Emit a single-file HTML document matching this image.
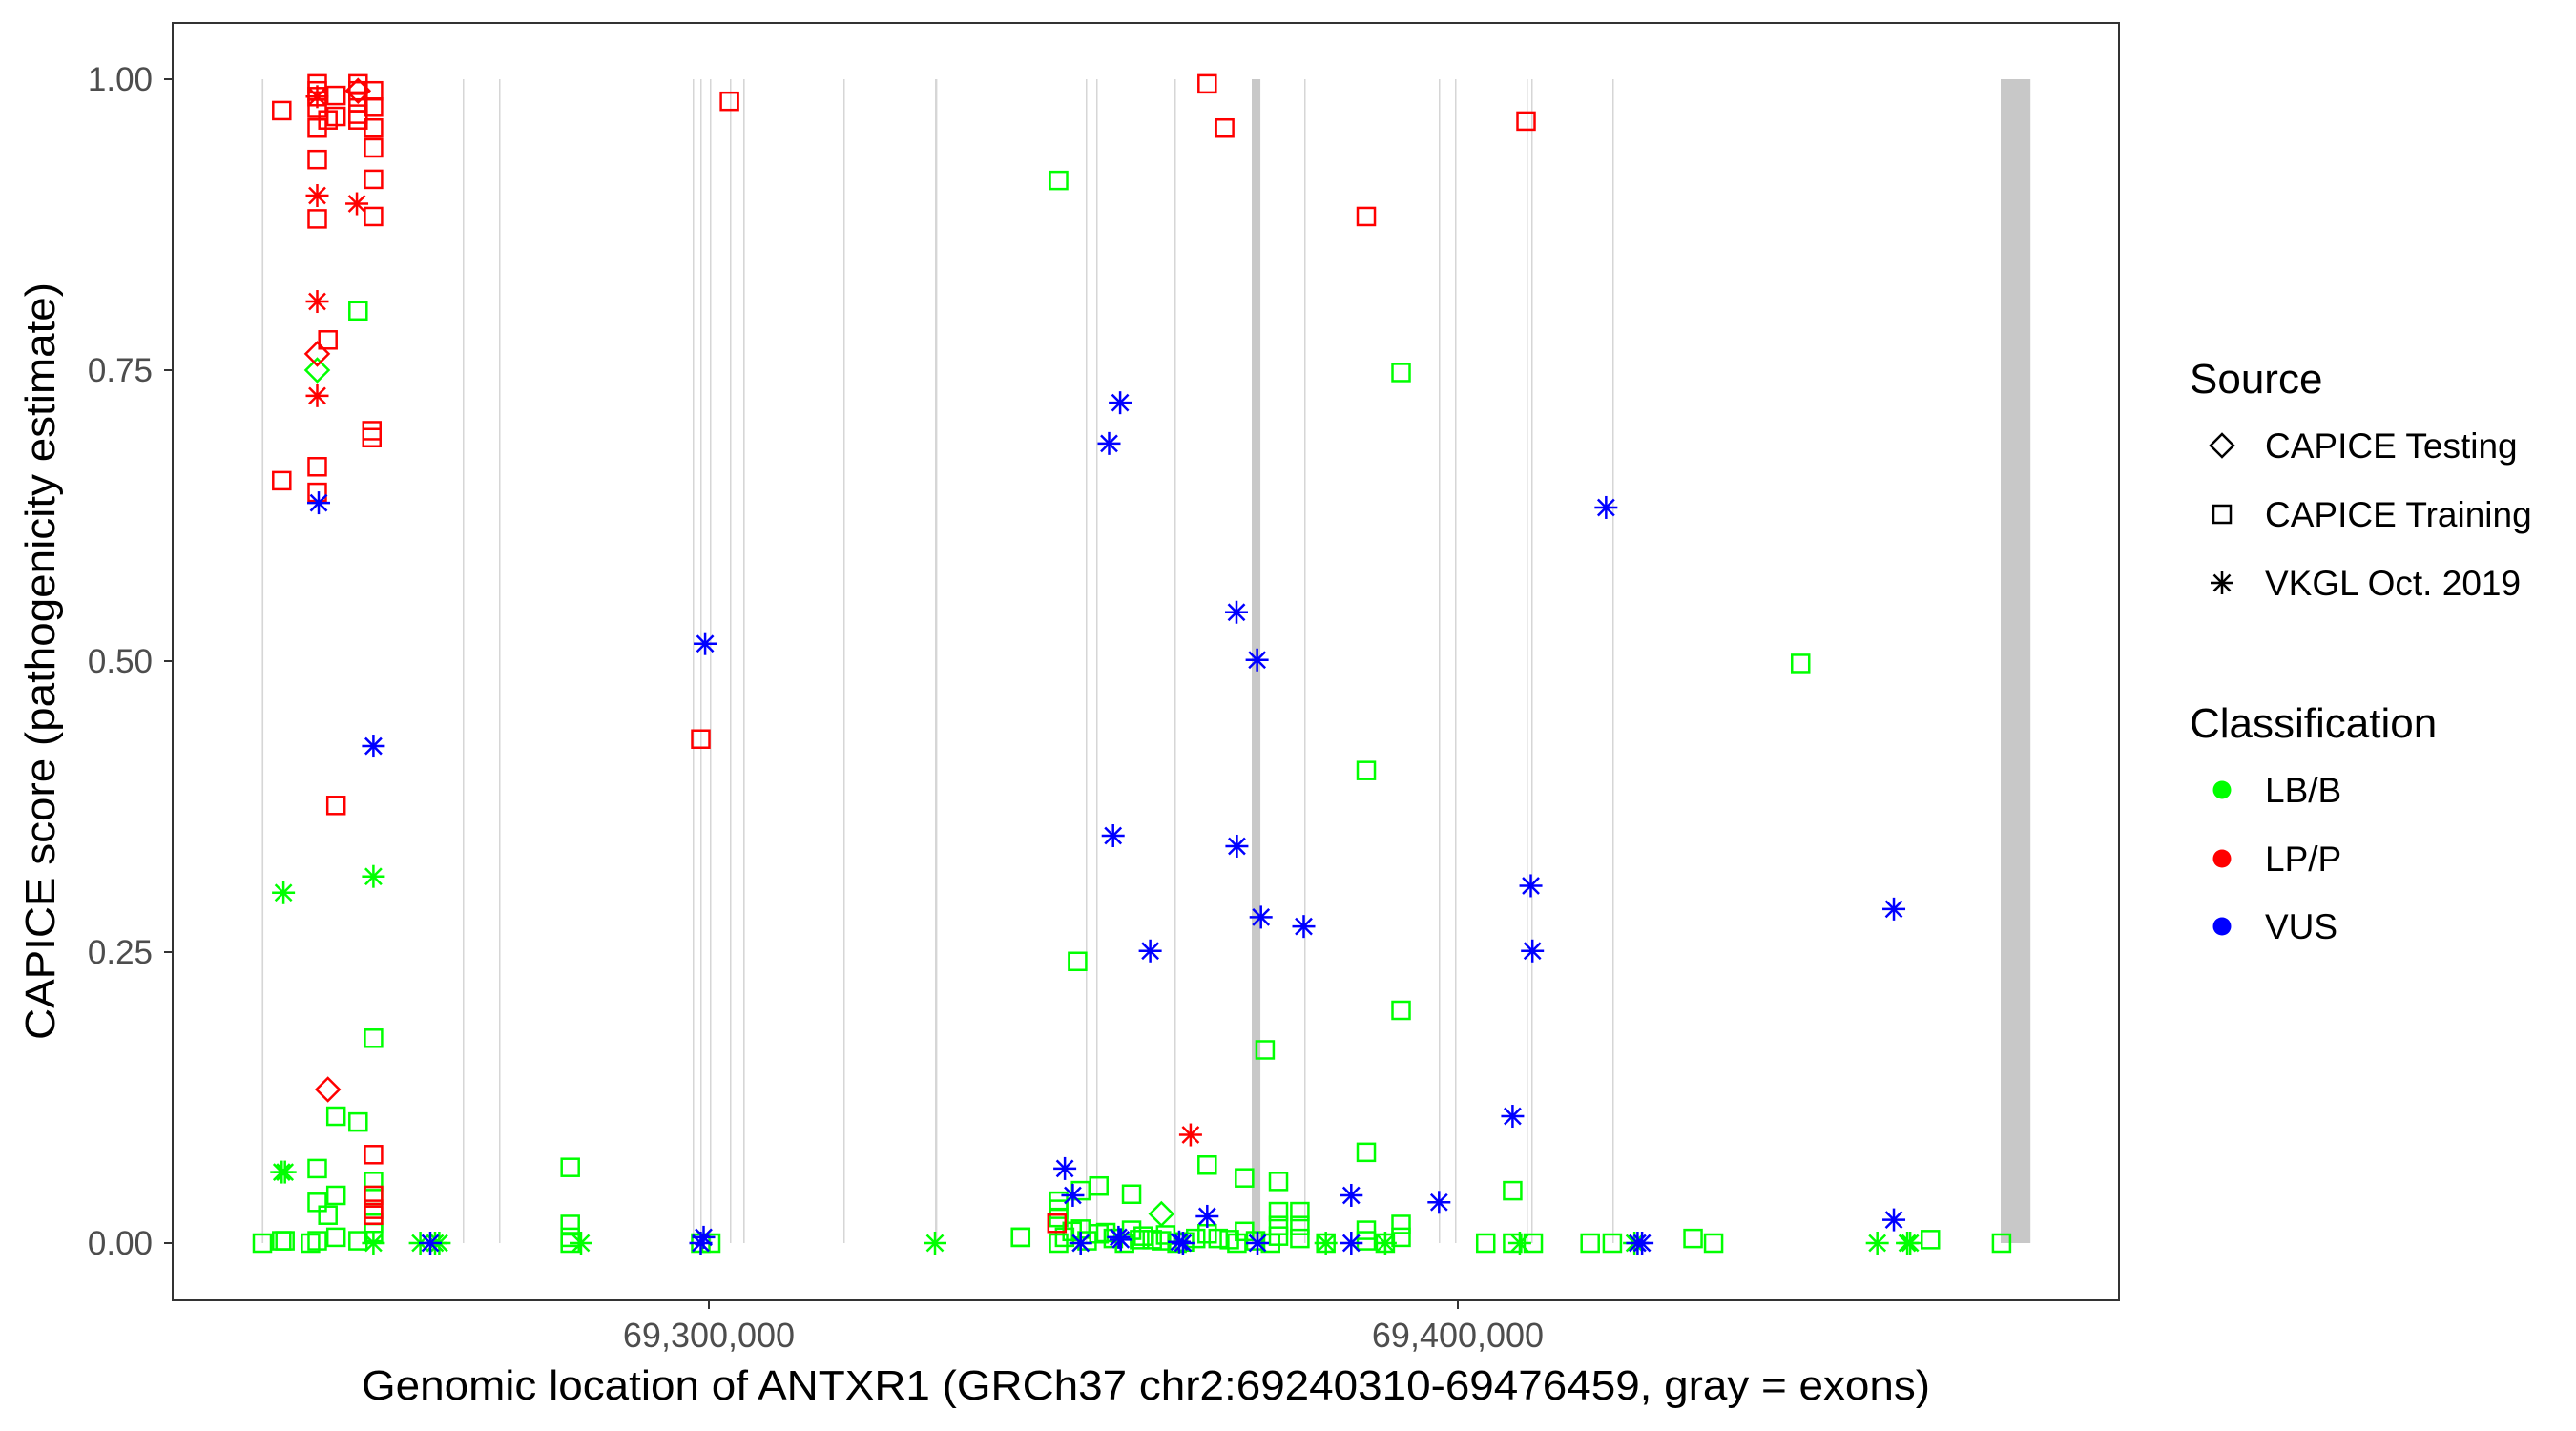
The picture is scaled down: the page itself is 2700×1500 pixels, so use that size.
<!DOCTYPE html>
<html><head><meta charset="utf-8"><style>
html,body{margin:0;padding:0;background:#fff}
svg{display:block;font-family:"Liberation Sans",Arial,sans-serif}
</style></head><body>
<svg id="chart" width="2700" height="1500" viewBox="0 0 2700 1500" xmlns="http://www.w3.org/2000/svg">
<rect width="2700" height="1500" fill="#fff"/>
<g id="exons"></g>
<g id="points"></g>
<rect x="181" y="24" width="2040" height="1339" fill="none" stroke="#333" stroke-width="2"/>
<g id="axes"></g>
<text x="1201" y="1467" font-size="44" text-anchor="middle" textLength="1644" lengthAdjust="spacingAndGlyphs">Genomic location of ANTXR1 (GRCh37 chr2:69240310-69476459, gray = exons)</text>
<text transform="translate(57,693) rotate(-90)" font-size="44" text-anchor="middle" textLength="794" lengthAdjust="spacingAndGlyphs">CAPICE score (pathogenicity estimate)</text>
<g id="legend">
<text x="2295" y="412" font-size="44">Source</text>
<path d="M2329 455 L2341 467 L2329 479 L2317 467 Z" fill="none" stroke="#000" stroke-width="2.5"/>
<text x="2374" y="480" font-size="37">CAPICE Testing</text>
<rect x="2320" y="530" width="18" height="18" fill="none" stroke="#000" stroke-width="2.5"/>
<text x="2374" y="552" font-size="37">CAPICE Training</text>
<g stroke="#000" stroke-width="2.5"><line x1="2329" y1="599" x2="2329" y2="623"/><line x1="2317" y1="611" x2="2341" y2="611"/><line x1="2320.5" y1="602.5" x2="2337.5" y2="619.5"/><line x1="2320.5" y1="619.5" x2="2337.5" y2="602.5"/></g>
<text x="2374" y="624" font-size="37">VKGL Oct. 2019</text>
<text x="2295" y="773" font-size="44">Classification</text>
<circle cx="2329" cy="828" r="9.5" fill="#00ff00"/>
<text x="2374" y="841" font-size="37">LB/B</text>
<circle cx="2329" cy="900" r="9.5" fill="#ff0000"/>
<text x="2374" y="913" font-size="37">LP/P</text>
<circle cx="2329" cy="971" r="9.5" fill="#0000ff"/>
<text x="2374" y="984" font-size="37">VUS</text>
</g>
</svg>
<script>
// ---- data ----
const exonStart = [69240310,69267133,69271974,69297834,69298853,69300127,69302803,69304586,69317962,69330191,69350319,69351720,69362166,69372485,69379491,69397453,69399619,69409173,69409810,69420638,69472486];
const exonEnd   = [69240520,69267200,69272040,69297900,69298920,69300190,69302870,69304790,69318030,69330500,69350380,69351790,69362230,69373640,69379560,69397510,69399680,69409240,69409870,69420690,69476459];
const yTicks = [0,0.25,0.5,0.75,1];
const yTickLabels = ["0.00","0.25","0.50","0.75","1.00"];
const xTicks = [69300000,69400000];
const xTickLabels = ["69,300,000","69,400,000"];

const lbTrainPos = [69253159,69255210,69250216,69253159,69247706,69247706,69250216,69249133,69255210,69255210,69255210,69255210,69281490,69281490,69281490,69281490,69240382,69242967,69243400,69247706,69246800,69250216,69253159,69341631,69300255,69298917,
 69346690,69392421,69445762,69387772,69349224,69392421,69374257,69387772,69407314,69366536,69371506,69376053,69356438,69352067,69349645,69346690,69346690,69346690,69376053,69378905,69378905,69376053,69387772,69392421,69392421,69341618,69403724,69407314,69410066,69417670,69420627,69431407,69434148,69463086,69472600,
 69346690,69348500,69349645,69352067,69354000,69356438,69358000,69359200,69360423,69362500,69365000,69366536,69369500,69371506,69373000,69375000,69376053,69378905,69382380,69387772,69390307,69347500,69350500,69353000,69355500,69357500,69361000,69363500,69368000,69370500];
const lbTrainScore = [0.801,0.176,0.109,0.104,0.064,0.035,0.041,0.024,0.053,0.041,0.017,0.009,0.065,0.016,0.005,0,0,0.002,0.002,0.002,0,0.005,0.002,0.005,0,0,
 0.913,0.748,0.498,0.406,0.242,0.2,0.166,0.078,0.045,0.067,0.056,0.053,0.042,0.049,0.045,0.036,0.029,0.022,0.027,0.027,0.015,0.015,0.011,0.016,0.005,0.005,0,0,0,0,0,0.004,0,0.003,0,
 0,0.01,0.012,0.008,0.004,0.011,0.006,0.003,0.002,0,0.004,0.008,0.003,0.01,0.002,0,0.006,0.004,0,0.002,0,0.005,0.002,0.009,0,0.003,0.007,0.001,0.004,0];

const lpTrainPos = [69242967,69242967,69247706,69247706,69247706,69247706,69247706,69247706,69247706,69247706,69247706,69250216,69250216,69250216,69249133,69249133,69253159,69253159,69253159,69253159,69253159,69255210,69255210,69255210,69255210,69255210,69255210,69255210,69255210,69255210,69255210,69255000,69255000,69298917,69302752,69366536,69368867,69409110,69387772,69346472];
const lpTrainScore = [0.973,0.655,0.996,0.99,0.985,0.975,0.958,0.931,0.88,0.667,0.645,0.986,0.968,0.376,0.965,0.776,0.996,0.99,0.98,0.97,0.965,0.99,0.976,0.958,0.941,0.914,0.882,0.076,0.041,0.029,0.024,0.698,0.692,0.433,0.981,0.996,0.958,0.964,0.882,0.017];

const lpVkglPos = [69247706,69247706,69247706,69247706,69253000,69364320];
const lpVkglScore = [0.9,0.809,0.728,0.985,0.893,0.093];
const lpTestPos = [69247706,69249133,69253159];
const lpTestScore = [0.764,0.132,0.99];
const lbTestPos = [69247706,69360423];
const lbTestScore = [0.75,0.025];

const lbVkglPos = [69243200,69255210,69243400,69242967,69255210,69261477,69263439,69264000,69282930,69330191,69382380,69390307,69408272,69456010,69460011,69460400,69349645,69423583];
const lbVkglScore = [0.301,0.315,0.061,0.061,0,0,0,0,0,0,0,0,0,0,0,0,0,0];

const vusVkglPos = [69247900,69255210,69299500,69299300,69298917,69262802,69354917,69353440,69419790,69370447,69373200,69353975,69370500,69373720,69379427,69358932,69409750,69409960,69458220,69407314,69347530,69348590,69366536,69385770,69397492,69458220,69349645,69354700,69355000,69362800,69363300,69373250,69385770,69424000,69424600];
const vusVkglScore = [0.636,0.427,0.515,0.005,0,0,0.722,0.687,0.632,0.542,0.501,0.35,0.341,0.28,0.272,0.251,0.307,0.251,0.287,0.109,0.064,0.041,0.023,0.041,0.035,0.02,0,0.005,0.003,0.001,0,0,0,0,0];

// ---- scales ----
const X0 = 69300000, XPX0 = 743, PXPERBP = 785/100000;
function xs(g){ return XPX0 + (g - X0) * PXPERBP; }
function ys(v){ return 1303 - v * 1220; }
const NS = "http://www.w3.org/2000/svg";
function mk(tag, attrs, parent){ const e=document.createElementNS(NS,tag); for(const k in attrs) e.setAttribute(k,attrs[k]); parent.appendChild(e); return e; }

// exons
const exG = document.getElementById('exons');
for (let i=0;i<exonStart.length;i++){
  const x1 = xs(exonStart[i]), x2 = xs(exonEnd[i]);
  const w = Math.max(1.5, x2-x1);
  const r = mk('rect',{x:x1,y:ys(1),width:w,height:ys(0)-ys(1),fill: w>2.5 ? '#c8c8c8' : '#d6d6d6'},exG);
  
  
}

// axes
const ax = document.getElementById('axes');
for (let i=0;i<yTicks.length;i++){
  const y = ys(yTicks[i]);
  const t = mk('line',{x1:172,x2:181,y1:y,y2:y,stroke:'#333','stroke-width':2},ax);
  
  
  const l = mk('text',{x:160,y:y+12,'font-size':35,'text-anchor':'end',fill:'#4d4d4d'},ax);
  l.textContent = yTickLabels[i];
  
  
}
for (let i=0;i<xTicks.length;i++){
  const x = xs(xTicks[i]);
  const t = mk('line',{x1:x,x2:x,y1:1363,y2:1372,stroke:'#333','stroke-width':2},ax);
  
  
  const l = mk('text',{x:x,y:1412,'font-size':36,'text-anchor':'middle',fill:'#4d4d4d'},ax);
  l.textContent = xTickLabels[i];
  
  
}

// points
const pg = document.getElementById('points');
function square(x,y,c){ return mk('rect',{x:x-9,y:y-9,width:18,height:18,fill:'none',stroke:c,'stroke-width':2.5},pg); }
function diamond(x,y,c){ return mk('path',{d:`M${x} ${y-12}L${x+12} ${y}L${x} ${y+12}L${x-12} ${y}Z`,fill:'none',stroke:c,'stroke-width':2.5},pg); }
function star(x,y,c){
  const g = mk('g',{stroke:c,'stroke-width':2.5},pg);
  mk('line',{x1:x,y1:y-12,x2:x,y2:y+12},g);
  mk('line',{x1:x-12,y1:y,x2:x+12,y2:y},g);
  mk('line',{x1:x-8.5,y1:y-8.5,x2:x+8.5,y2:y+8.5},g);
  mk('line',{x1:x-8.5,y1:y+8.5,x2:x+8.5,y2:y-8.5},g);
  return g;
}
function draw(pos, score, fn, color, name){
  for (let i=0;i<pos.length;i++){
    const el = fn(xs(pos[i]), ys(score[i]), color);
    
    
  }
}
const G='#00ff00', R='#ff0000', B='#0000ff';
draw(lbTrainPos, lbTrainScore, square, G, 'point-lbb-training');
draw(lpTrainPos, lpTrainScore, square, R, 'point-lpp-training');
draw(lbTestPos, lbTestScore, diamond, G, 'point-lbb-testing');
draw(lpTestPos, lpTestScore, diamond, R, 'point-lpp-testing');
draw(lbVkglPos, lbVkglScore, star, G, 'point-lbb-vkgl');
draw(lpVkglPos, lpVkglScore, star, R, 'point-lpp-vkgl');
draw(vusVkglPos, vusVkglScore, star, B, 'point-vus-vkgl');
</script>
</body></html>
